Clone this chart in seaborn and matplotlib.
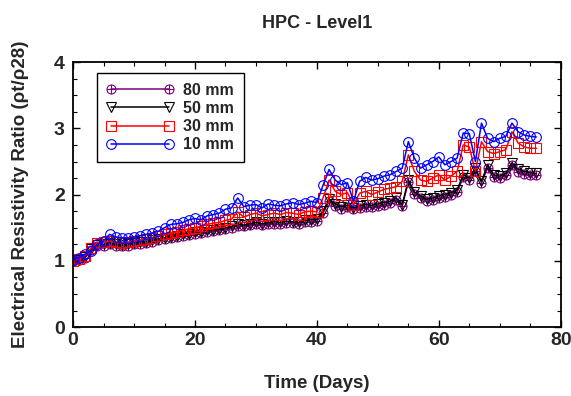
import numpy as np
import pandas as pd
import seaborn as sns
import matplotlib.pyplot as plt
from matplotlib.path import Path
from matplotlib.ticker import MultipleLocator

# daily readings, day 0 .. 76
days = list(range(77))

ratio_10mm = [
    1.02, 1.05, 1.10, 1.15, 1.25, 1.30, 1.40, 1.36, 1.35, 1.34,
    1.36, 1.38, 1.40, 1.42, 1.45, 1.50, 1.55, 1.56, 1.58, 1.62,
    1.64, 1.62, 1.68, 1.70, 1.72, 1.78, 1.80, 1.95, 1.82, 1.84,
    1.85, 1.80, 1.86, 1.84, 1.83, 1.86, 1.88, 1.85, 1.87, 1.90,
    1.88, 2.14, 2.38, 2.22, 2.15, 2.18, 1.90, 2.20, 2.26, 2.22,
    2.24, 2.28, 2.30, 2.35, 2.40, 2.80, 2.55, 2.40, 2.45, 2.50,
    2.57, 2.45, 2.50, 2.55, 2.93, 2.92, 2.50, 3.08, 2.85, 2.80,
    2.85, 2.88, 3.08, 2.95, 2.90, 2.88, 2.87]

ratio_30mm = [
    1.00, 1.03, 1.08, 1.20, 1.27, 1.28, 1.30, 1.28, 1.27, 1.28,
    1.30, 1.32, 1.33, 1.35, 1.37, 1.40, 1.42, 1.44, 1.46, 1.48,
    1.50, 1.52, 1.55, 1.57, 1.58, 1.61, 1.63, 1.74, 1.66, 1.70,
    1.72, 1.68, 1.70, 1.72, 1.70, 1.73, 1.72, 1.70, 1.74, 1.75,
    1.74, 1.95, 2.22, 2.05, 2.00, 2.03, 1.85, 2.02, 2.05, 2.00,
    2.04, 2.08, 2.10, 2.12, 2.20, 2.60, 2.35, 2.22, 2.20, 2.25,
    2.30, 2.22, 2.28, 2.35, 2.75, 2.72, 2.35, 2.80, 2.65, 2.62,
    2.65, 2.68, 2.95, 2.78, 2.72, 2.70, 2.70]

ratio_50mm = [
    1.00, 1.02, 1.06, 1.18, 1.24, 1.25, 1.27, 1.25, 1.24, 1.25,
    1.27, 1.28, 1.29, 1.31, 1.33, 1.35, 1.36, 1.38, 1.40, 1.41,
    1.43, 1.44, 1.46, 1.47, 1.48, 1.50, 1.52, 1.56, 1.54, 1.56,
    1.58, 1.56, 1.58, 1.59, 1.58, 1.60, 1.59, 1.58, 1.61, 1.62,
    1.63, 1.75, 1.93, 1.86, 1.82, 1.84, 1.80, 1.83, 1.85, 1.84,
    1.86, 1.88, 1.90, 1.95, 1.85, 2.22, 2.04, 1.98, 1.93, 1.95,
    1.98, 2.00, 2.03, 2.07, 2.30, 2.25, 2.40, 2.20, 2.45, 2.30,
    2.28, 2.32, 2.48, 2.38, 2.35, 2.33, 2.32]

ratio_80mm = [
    1.00, 1.01, 1.05, 1.17, 1.22, 1.23, 1.25, 1.23, 1.22, 1.23,
    1.25, 1.26, 1.27, 1.29, 1.31, 1.33, 1.34, 1.36, 1.37, 1.39,
    1.41, 1.42, 1.44, 1.45, 1.46, 1.48, 1.50, 1.53, 1.52, 1.54,
    1.55, 1.54, 1.56, 1.56, 1.55, 1.57, 1.57, 1.56, 1.58, 1.59,
    1.60, 1.72, 1.90, 1.83, 1.79, 1.81, 1.78, 1.80, 1.82, 1.81,
    1.83, 1.85, 1.87, 1.92, 1.83, 2.19, 2.01, 1.95, 1.90, 1.92,
    1.95, 1.97, 2.00, 2.04, 2.26, 2.22, 2.36, 2.18, 2.40, 2.27,
    2.25, 2.29, 2.44, 2.34, 2.31, 2.30, 2.29]

# circle with a cross inside
circle_plus = Path.make_compound_path(
    Path.unit_circle(),
    Path([(-1, 0), (1, 0)], [Path.MOVETO, Path.LINETO]),
    Path([(0, -1), (0, 1)], [Path.MOVETO, Path.LINETO]),
)

series = [
    ("80 mm", ratio_80mm, "#800080", circle_plus, 6.5),
    ("50 mm", ratio_50mm, "black", "v", 6.5),
    ("30 mm", ratio_30mm, "red", "s", 6.5),
    ("10 mm", ratio_10mm, "blue", "o", 7),
]

sns.set_style("ticks")
plt.rcParams['font.family'] = ['Liberation Sans', 'DejaVu Sans']
plt.rcParams['font.weight'] = 'bold'

fig = plt.figure(figsize=(5.71, 3.96), dpi=100)
ax = fig.add_axes([0.128, 0.174, 0.854, 0.669])

for name, vals, color, marker, ms in series:
    df = pd.DataFrame({"day": days, "ratio": vals})
    sns.lineplot(data=df, x="day", y="ratio", ax=ax, color=color,
                 marker=marker, markersize=ms, markerfacecolor="none",
                 markeredgecolor=color, markeredgewidth=0.8,
                 linewidth=1.1, label=name)

ax.set_xlim(0, 80)
ax.set_ylim(0, 4)
ax.xaxis.set_major_locator(MultipleLocator(20))
ax.xaxis.set_minor_locator(MultipleLocator(5))
ax.yaxis.set_major_locator(MultipleLocator(1))
ax.yaxis.set_minor_locator(MultipleLocator(0.25))
ax.tick_params(which="both", direction="in", top=True, right=True,
               color="black", labelsize=14)
ax.tick_params(which="major", length=5, width=1)
ax.tick_params(which="minor", length=3, width=0.8)
ax.tick_params(axis="y", pad=6)
for lbl in ax.get_xticklabels() + ax.get_yticklabels():
    lbl.set_fontweight("bold")
for sp in ax.spines.values():
    sp.set_linewidth(1.3)
    sp.set_color("black")

ax.set_xlabel("Time (Days)", fontsize=13.5, fontweight="bold", labelpad=19)
ax.set_ylabel("Electrical Resistivity Ratio (\u03c1t/\u03c128)", fontsize=13.5,
              fontweight="bold", labelpad=18)
fig.text(0.555, 1 - 24 / 396, "HPC - Level1", ha="center", va="center",
         fontsize=13, fontweight="bold")

handles, labels = ax.get_legend_handles_labels()
leg = ax.legend(handles, labels, loc="upper left",
                bbox_to_anchor=(0.049, 0.958), numpoints=2,
                handlelength=4.2, fancybox=False, framealpha=1,
                edgecolor="black", prop={"weight": "bold", "size": 11.5},
                borderpad=0.6, labelspacing=0.2, handletextpad=0.6,
                borderaxespad=0)
leg.get_frame().set_linewidth(1.0)

fig.savefig("out.png", dpi=100)
